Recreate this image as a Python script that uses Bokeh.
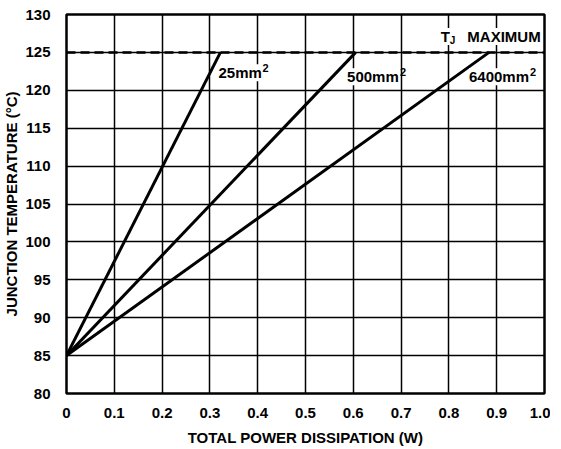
from bokeh.plotting import figure
from bokeh.models import FixedTicker, Range1d
from bokeh.embed import file_html
from bokeh.resources import INLINE
from bokeh.core.properties import value

# Data
areas = ["25mm", "500mm", "6400mm"]
p_start = [0.0, 0.0, 0.0]
t_start = [85, 85, 85]
p_end = [0.322, 0.605, 0.884]
t_end = [125, 125, 125]
tj_max = 125
x_ticks = [0, 0.1, 0.2, 0.3, 0.4, 0.5, 0.6, 0.7, 0.8, 0.9, 1.0]
x_tick_labels = ["0", "0.1", "0.2", "0.3", "0.4", "0.5", "0.6", "0.7", "0.8", "0.9", "1.0"]
y_ticks = [80, 85, 90, 95, 100, 105, 110, 115, 120, 125, 130]
label_x = [0.318, 0.587, 0.842]
label_y = [122.3, 121.8, 121.8]
sup_offsets = [44, 53, 61]

FONT = "Liberation Sans"

p = figure(width=550, height=449, output_backend="svg", toolbar_location=None,
           x_range=Range1d(0, 1.0), y_range=Range1d(80, 130),
           min_border_left=40, min_border_right=6, min_border_top=14, min_border_bottom=56)
p.background_fill_color = "white"
p.border_fill_color = "white"
p.outline_line_color = "black"
p.outline_line_width = 2.5
p.outline_line_alpha = 1

p.xaxis.ticker = FixedTicker(ticks=x_ticks)
p.xaxis.major_label_overrides = {t: l for t, l in zip(x_ticks, x_tick_labels)}
p.yaxis.ticker = FixedTicker(ticks=y_ticks)
for ax in (p.xaxis, p.yaxis):
    ax.axis_line_color = None
    ax.major_tick_line_color = None
    ax.minor_tick_line_color = None
    ax.major_label_text_font = FONT
    ax.major_label_text_font_style = "bold"
    ax.major_label_text_font_size = "15px"
    ax.major_label_text_color = "black"
    ax.axis_label_text_font = FONT
    ax.axis_label_text_font_style = "bold"
    ax.axis_label_text_font_size = "15px"
    ax.axis_label_text_color = "black"
p.xaxis.axis_label = "TOTAL POWER DISSIPATION (W)"
p.yaxis.axis_label = "JUNCTION TEMPERATURE (°C)"
p.xaxis.major_label_standoff = 8
p.yaxis.major_label_standoff = 10
p.xaxis.axis_label_standoff = 8
p.yaxis.axis_label_standoff = 2

p.xgrid.ticker = FixedTicker(ticks=x_ticks)
p.ygrid.ticker = FixedTicker(ticks=y_ticks)
for g in (p.xgrid, p.ygrid):
    g.grid_line_color = "black"
    g.grid_line_width = 1.5
    g.grid_line_alpha = 1

# TJ max dashed line
p.line(x=[0, 1.0], y=[tj_max, tj_max], line_color="black", line_width=2.5, line_dash="9 5")

# Curves
p.segment(x0=p_start, y0=t_start, x1=p_end, y1=t_end, line_color="black", line_width=3)

# labels
p.text(x=label_x, y=label_y, text=areas, text_font=value(FONT), text_font_style="bold",
       text_font_size="15px", text_color="black", text_baseline="middle", text_align="left",
       background_fill_color="white")
p.text(x=label_x, y=label_y, text=["2", "2", "2"], text_font=value(FONT), text_font_style="bold",
       text_font_size="11px", text_color="black", text_baseline="middle", text_align="left",
       x_offset=sup_offsets, y_offset=[-5, -5, -5])

p.text(x=[0.992], y=[127.1], text=["MAXIMUM"], text_font=value(FONT), text_font_style="bold",
       text_font_size="15px", text_color="black", text_baseline="middle", text_align="right",
       background_fill_color="white")
p.text(x=[0.783], y=[127.1], text=["T"], text_font=value(FONT), text_font_style="bold",
       text_font_size="15px", text_color="black", text_baseline="middle", text_align="left",
       background_fill_color="white")
p.text(x=[0.783], y=[127.1], text=["J"], text_font=value(FONT), text_font_style="bold",
       text_font_size="10px", text_color="black", text_baseline="middle", text_align="left",
       x_offset=9, y_offset=4)

open("out.html", "w").write(file_html(p, INLINE))
